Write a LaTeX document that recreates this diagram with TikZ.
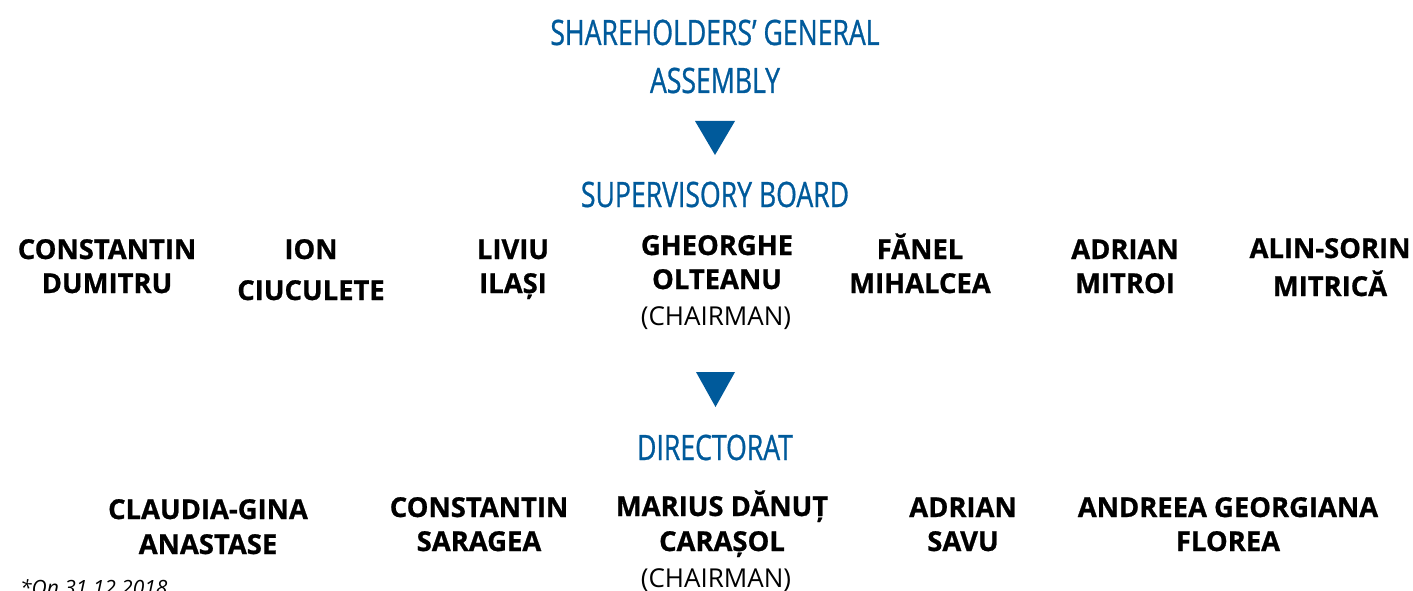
\documentclass[tikz,border=0pt]{standalone}
\usepackage{fontspec}
\setmainfont{Open Sans}[BoldFeatures={FakeBold=0.8}]
\newfontfamily\titlefont[FakeStretch=0.76,FakeBold=0.8]{Open Sans}
\definecolor{boardblue}{RGB}{0,90,155}
\begin{document}
\begin{tikzpicture}[x=1pt,y=-1pt,
  title/.style={font=\titlefont\fontsize{35}{48}\selectfont, text=boardblue,
    inner sep=0pt, anchor=base, align=center},
  person/.style={font=\bfseries\fontsize{27.4}{34}\selectfont,
    inner sep=0pt, anchor=base, align=center},
  role/.style={font=\fontsize{26}{32}\selectfont, inner sep=0pt, anchor=base},
  note/.style={font=\itshape\fontsize{21}{24}\selectfont, inner sep=0pt, anchor=base west},
  marker/.style={fill=boardblue}]
\useasboundingbox (0,0) rectangle (1413,591);
\clip (0,0) rectangle (1413,591);

% governing bodies (base anchor sits on the last line)
\node[title] (assembly) at (715,93) {SHAREHOLDERS’ GENERAL\\ASSEMBLY};
\node[title] (board) at (715,207) {SUPERVISORY BOARD};
\node[title] (directorat) at (715,460) {DIRECTORAT};

% down markers between the levels
\fill[marker] (695,121) -- (735,121) -- (715,155) -- cycle;
\fill[marker] (696,372) -- (735,372) -- (715.5,407) -- cycle;

% supervisory board members
\node[person] (sb1) at (107,293) {CONSTANTIN\\DUMITRU};
\node[person] (sb2) at (311,300) {ION\\[7pt]CIUCULETE};
\node[person] (sb3) at (513,293) {LIVIU\\ILAȘI};
\node[person] (sb4) at (717,289) {GHEORGHE\\OLTEANU};
\node[role] (sb4role) at (716,325) {(CHAIRMAN)};
\node[person] (sb5) at (920,293) {FĂNEL\\MIHALCEA};
\node[person] (sb6) at (1125,293) {ADRIAN\\MITROI};
\node[person] (sb7) at (1330,296) {ALIN-SORIN\\[4pt]MITRICĂ};

% directorate members
\node[person] (d1) at (208,554) {CLAUDIA-GINA\\[1pt]ANASTASE};
\node[person] (d2) at (479,551) {CONSTANTIN\\SARAGEA};
\node[person] (d3) at (722,551) {MARIUS DĂNUȚ\\[1pt]CARAȘOL};
\node[role] (d3role) at (716,587) {(CHAIRMAN)};
\node[person] (d4) at (963,551) {ADRIAN\\SAVU};
\node[person] (d5) at (1228,551) {ANDREEA GEORGIANA\\FLOREA};

\node[note] (date) at (20,595) {*On 31.12.2018};
\end{tikzpicture}
\end{document}
